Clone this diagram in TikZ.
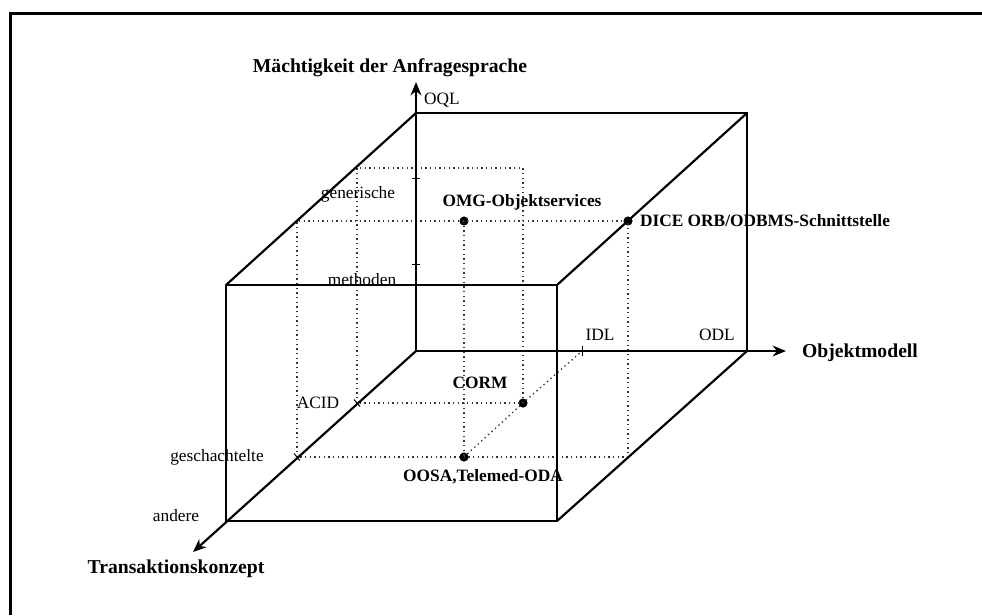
\documentclass[tikz,border=0pt]{standalone}
\usepackage{fontspec}
\setmainfont{Liberation Serif}
\usetikzlibrary{arrows.meta}

\begin{document}
\begin{tikzpicture}[x=0.6pt, y=-0.6pt,
  kante/.style={line width=1.3pt},
  achse/.style={line width=1.3pt, -{Stealth[length=8pt, width=6.5pt]}},
  hilfe/.style={dotted, line width=0.8pt, black!80},
  punkt/.style={circle, fill, inner sep=0pt, minimum size=5.5pt},
  marke/.style={font=\fontsize{10.4}{12}\selectfont},
  wert/.style={font=\fontsize{10.4}{12}\selectfont\bfseries},
  titel/.style={font=\fontsize{11.8}{14}\selectfont\bfseries}]
  \useasboundingbox (0,0) rectangle (982,615);

  % Rahmen
  \draw[line width=1.5pt] (10.5,615) -- (10.5,13.5) -- (982,13.5);

  \coordinate (O) at (416,351);
  \coordinate (BTL) at (416,113);
  \coordinate (BTR) at (747,113);
  \coordinate (BBR) at (747,351);
  \coordinate (FTL) at (226,285);
  \coordinate (FTR) at (557,285);
  \coordinate (FBR) at (557,521);
  \coordinate (FBL) at (226,521);
  \coordinate (Y) at (416,82);
  \coordinate (X) at (786,351);
  \coordinate (Z) at (193,552);

  % Skalenwerte
  \coordinate (meth) at (416,264);
  \coordinate (gen) at (416,178);
  \coordinate (idl) at (582,351);
  \coordinate (acid) at (357,403);
  \coordinate (gesch) at (297,457);

  % Hilfslinien (gepunktet)
  \coordinate (A1) at (357,168);
  \coordinate (A2) at (523,168);
  \coordinate (G1) at (297,221);
  \coordinate (G2) at (628,457);
  \node[punkt] (corm) at (523,403) {};
  \node[punkt] (oosa) at (464,457) {};
  \node[punkt] (omg) at (464,221) {};
  \node[punkt] (dice) at (628,221) {};

  \draw[hilfe] (acid) -- (A1) -- (A2) -- (corm.center) -- (acid);
  \draw[hilfe] (gesch) -- (G1) -- (dice.center) -- (G2) -- (gesch);
  \draw[hilfe] (omg.center) -- (oosa.center);
  \draw[hilfe] (oosa.center) -- (corm.center) -- (idl);

  % Wuerfel
  \draw[kante] (FTL) -- (FTR) -- (FBR) -- (FBL) -- cycle;
  \draw[kante] (BTL) -- (BTR) -- (BBR);
  \draw[kante] (BTL) -- (FTL);
  \draw[kante] (BTR) -- (FTR);
  \draw[kante] (BBR) -- (FBR);

  % Achsen
  \draw[achse] (O) -- (Y);
  \draw[achse] (O) -- (X);
  \draw[achse] (O) -- (Z);

  % Striche
  \draw[semithick] (meth) ++(-4,0) -- ++(8,0);
  \draw[semithick] (gen) ++(-4,0) -- ++(8,0);
  \draw[semithick] (idl) ++(0,-5) -- ++(0,10);
  \draw[semithick] (acid) ++(-3,-3.5) -- ++(6,7);
  \draw[semithick] (gesch) ++(-3,-3.5) -- ++(6,7);

  % Beschriftung
  \node[titel] (tmacht) at (390,68) {Mächtigkeit der Anfragesprache};
  \node[titel] (tobj) at (860,353) {Objektmodell};
  \node[titel] (ttrans) at (176,569) {Transaktionskonzept};

  \node[marke] (loql) at (442,100) {OQL};
  \node[marke] (lgen) at (358,194) {generische};
  \node[marke] (lmeth) at (362,280) {methoden};
  \node[marke] (lidl) at (600,335) {IDL};
  \node[marke] (lodl) at (717,335) {ODL};
  \node[marke] (lacid) at (318,403) {ACID};
  \node[marke] (lgesch) at (217,457) {geschachtelte};
  \node[marke] (land) at (176,516) {andere};

  \node[wert] (lomg) at (522,202) {OMG-Objektservices};
  \node[wert] (ldice) at (765,221) {DICE ORB/ODBMS-Schnittstelle};
  \node[wert] (lcorm) at (480,383) {CORM};
  \node[wert] (loosa) at (483,477) {OOSA,Telemed-ODA};
\end{tikzpicture}
\end{document}
